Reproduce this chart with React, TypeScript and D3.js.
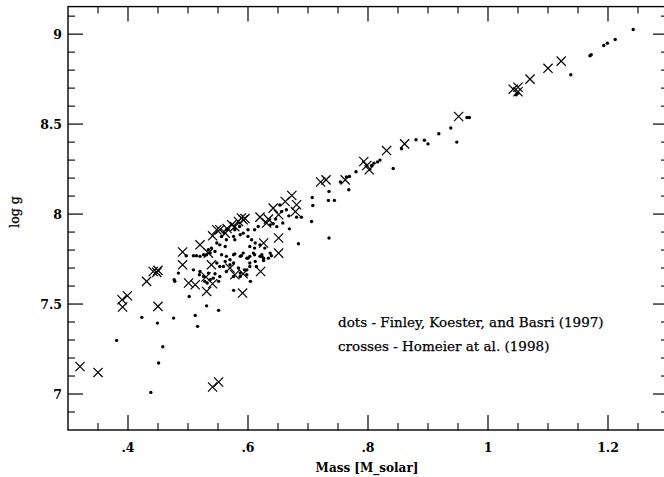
import React from "react";
import * as d3 from "d3";

// Finley, Koester & Basri (1997) — dots: [mass, log g]
const dotMass = [
  1.242, 1.212, 1.199, 1.193, 1.17, 1.172, 1.138, 1.047, 1.05, 0.965, 0.969, 0.938, 0.948, 0.918, 0.88, 0.894, 0.9,
  0.856, 0.842, 0.82, 0.816, 0.806, 0.81, 0.78, 0.769, 0.764, 0.754, 0.768, 0.735, 0.707, 0.734, 0.744, 0.708, 0.706,
  0.735, 0.684,
  0.653, 0.664, 0.656, 0.668, 0.689, 0.681, 0.646, 0.642, 0.637, 0.658, 0.669, 0.648,
  0.534, 0.539, 0.548, 0.553, 0.562, 0.564, 0.576, 0.578, 0.587, 0.592, 0.6, 0.606, 0.611, 0.617,
  0.548, 0.553, 0.562, 0.57, 0.576, 0.587, 0.592, 0.598, 0.603, 0.609, 0.623, 0.626, 0.634,
  0.564, 0.556, 0.578, 0.586, 0.6,
  0.603, 0.612, 0.611, 0.62, 0.628, 0.637,
  0.603, 0.62, 0.614, 0.598, 0.587, 0.598,
  0.381, 0.423, 0.449, 0.476, 0.458, 0.451, 0.438, 0.512, 0.516, 0.531, 0.551, 0.502, 0.576, 0.604, 0.478, 0.477,
  0.484, 0.52, 0.519, 0.509, 0.526, 0.528, 0.532, 0.537, 0.542, 0.551, 0.553, 0.545, 0.534, 0.559, 0.564, 0.57,
  0.576, 0.584, 0.576, 0.587, 0.594, 0.603, 0.612, 0.623, 0.626, 0.639,
  0.509, 0.52, 0.531, 0.537, 0.545, 0.556, 0.564, 0.578, 0.589, 0.6, 0.611, 0.497, 0.514, 0.526,
];
const dotLogg = [
  9.026, 8.97, 8.95, 8.937, 8.88, 8.885, 8.774, 8.663, 8.672, 8.537, 8.537, 8.478, 8.4, 8.446, 8.413, 8.41, 8.39,
  8.363, 8.253, 8.3, 8.29, 8.27, 8.283, 8.235, 8.209, 8.206, 8.178, 8.135, 8.126, 8.092, 8.076, 8.076, 8.048, 7.959,
  7.867, 7.835,
  8.05, 8.024, 8.014, 7.99, 7.983, 7.983, 7.972, 7.946, 7.94, 7.95, 7.918, 7.93,
  7.802, 7.811, 7.839, 7.829, 7.82, 7.857, 7.876, 7.857, 7.885, 7.894, 7.876, 7.857, 7.913, 7.931,
  7.728, 7.709, 7.737, 7.746, 7.774, 7.765, 7.783, 7.755, 7.765, 7.783, 7.774, 7.755, 7.755,
  7.913, 7.876, 7.913, 7.931, 7.913,
  7.82, 7.839, 7.811, 7.829, 7.811, 7.783,
  7.709, 7.765, 7.709, 7.69, 7.672, 7.663,
  7.298, 7.426, 7.394, 7.422, 7.263, 7.172, 7.009, 7.437, 7.376, 7.49, 7.465, 7.542, 7.576, 7.626, 7.626, 7.635,
  7.672, 7.681, 7.663, 7.69, 7.653, 7.626, 7.617, 7.635, 7.644, 7.626, 7.653, 7.668, 7.672, 7.709, 7.681, 7.718,
  7.728, 7.7, 7.653, 7.653, 7.69, 7.728, 7.737, 7.765, 7.742, 7.768,
  7.768, 7.765, 7.774, 7.783, 7.792, 7.774, 7.765, 7.779, 7.768, 7.755, 7.774, 7.768, 7.768, 7.774,
];

// Homeier et al. (1998) — crosses: [mass, log g]
const crossMass = [
  0.32, 0.35, 0.39, 0.399, 0.391, 0.431, 0.442, 0.45, 0.448, 0.45, 0.541, 0.551, 0.491, 0.491, 0.501, 0.512,
  0.531, 0.53, 0.541, 0.539, 0.57, 0.578, 0.592, 0.591, 0.621, 0.651, 0.651, 0.52, 0.534, 0.541, 0.548, 0.553,
  0.562, 0.573, 0.578, 0.584, 0.589, 0.592, 0.62, 0.631, 0.634, 0.642, 0.651, 0.662, 0.673, 0.681, 0.679, 0.626,
  0.721, 0.73, 0.762, 0.793, 0.802, 0.798, 0.831, 0.861, 0.951, 1.042, 1.05, 1.05, 1.07, 1.1, 1.122, 0.565, 0.595,
];
const crossLogg = [
  7.153, 7.12, 7.524, 7.546, 7.483, 7.626, 7.681, 7.687, 7.676, 7.487, 7.039, 7.067, 7.718, 7.789, 7.617, 7.607,
  7.57, 7.65, 7.613, 7.718, 7.7, 7.663, 7.668, 7.561, 7.681, 7.783, 7.867, 7.829, 7.783, 7.879, 7.913, 7.913,
  7.894, 7.94, 7.93, 7.959, 7.978, 7.968, 7.983, 7.95, 7.972, 8.033, 7.996, 8.07, 8.103, 8.052, 8.014, 7.839,
  8.178, 8.19, 8.19, 8.292, 8.246, 8.27, 8.353, 8.39, 8.542, 8.694, 8.705, 8.68, 8.75, 8.81, 8.85, 7.92, 7.975,
];

const xMajorTicks = [0.4, 0.6, 0.8, 1.0, 1.2];
const xTickLabels = [".4", ".6", ".8", "1", "1.2"];
const yMajorTicks = [7, 7.5, 8, 8.5, 9];
const yTickLabels = ["7", "7.5", "8", "8.5", "9"];
const xMinorTicks = [0.35, 0.45, 0.5, 0.55, 0.65, 0.7, 0.75, 0.85, 0.9, 0.95, 1.05, 1.1, 1.15, 1.25];
const yMinorTicks = [6.9, 7.1, 7.2, 7.3, 7.4, 7.6, 7.7, 7.8, 7.9, 8.1, 8.2, 8.3, 8.4, 8.6, 8.7, 8.8, 8.9, 9.1];

const legendLines = [
  "dots - Finley, Koester, and Basri (1997)",
  "crosses - Homeier at al. (1998)",
];

const W = 664;
const H = 477;
const FONT = "'DejaVu Serif', serif";

export default function App() {
  const x = d3.scaleLinear().domain([0.3, 1.3]).range([68, 668]);
  const y = d3.scaleLinear().domain([6.8, 9.153]).range([430, 6.6]);
  const [x0, x1] = x.range();
  const [y0, y1] = y.range();
  const majorLen = 15;
  const minorLen = 7;
  const cs = 4.6;

  return (
    <svg
      width={W}
      height={H}
      style={{ position: "fixed", left: 0, top: 0, background: "#fff" }}
      xmlns="http://www.w3.org/2000/svg"
    >
      <rect x={0} y={0} width={W} height={H} fill="#fff" />
      {/* frame */}
      <rect x={x0} y={y1} width={x1 - x0} height={y0 - y1} fill="none" stroke="#000" strokeWidth={1.4} />
      {/* x ticks, bottom and top */}
      {xMajorTicks.map((t, i) => (
        <g key={"xM" + i} stroke="#000" strokeWidth={1.2}>
          <line x1={x(t)} x2={x(t)} y1={y0} y2={y0 - majorLen} />
          <line x1={x(t)} x2={x(t)} y1={y1} y2={y1 + majorLen} />
        </g>
      ))}
      {xMinorTicks.map((t, i) => (
        <g key={"xm" + i} stroke="#000" strokeWidth={1.1}>
          <line x1={x(t)} x2={x(t)} y1={y0} y2={y0 - minorLen} />
          <line x1={x(t)} x2={x(t)} y1={y1} y2={y1 + minorLen} />
        </g>
      ))}
      {yMajorTicks.map((t, i) => (
        <g key={"yM" + i} stroke="#000" strokeWidth={1.2}>
          <line x1={x0} x2={x0 + majorLen} y1={y(t)} y2={y(t)} />
          <line x1={x1} x2={x1 - majorLen} y1={y(t)} y2={y(t)} />
        </g>
      ))}
      {yMinorTicks.map((t, i) => (
        <g key={"ym" + i} stroke="#000" strokeWidth={1.1}>
          <line x1={x0} x2={x0 + minorLen} y1={y(t)} y2={y(t)} />
          <line x1={x1} x2={x1 - minorLen} y1={y(t)} y2={y(t)} />
        </g>
      ))}
      {/* tick labels */}
      {xMajorTicks.map((t, i) => (
        <text key={"xl" + i} x={x(t)} y={452} textAnchor="middle" fontFamily={FONT} fontWeight="bold" fontSize={12.5} fill="#000">
          {xTickLabels[i]}
        </text>
      ))}
      {yMajorTicks.map((t, i) => (
        <text key={"yl" + i} x={62} y={y(t) + 4.5} textAnchor="end" fontFamily={FONT} fontWeight="bold" fontSize={12.5} fill="#000">
          {yTickLabels[i]}
        </text>
      ))}
      {/* axis titles */}
      <text x={(x0 + 668) / 2 - 1} y={472} textAnchor="middle" fontFamily={FONT} fontWeight="bold" fontSize={12} fill="#000">
        Mass [M_solar]
      </text>
      <text
        transform={`translate(19, 212) rotate(-90)`}
        textAnchor="middle"
        fontFamily={FONT}
        fontSize={12.5}
        fill="#000"
        stroke="#000"
        strokeWidth={0.3}
      >
        log g
      </text>
      {/* dots */}
      {dotMass.map((m, i) => (
        <circle key={"d" + i} cx={x(m)} cy={y(dotLogg[i])} r={1.7} fill="#000" />
      ))}
      {/* crosses */}
      {crossMass.map((m, i) => {
        const cx = x(m);
        const cy = y(crossLogg[i]);
        return (
          <path
            key={"c" + i}
            d={`M${cx - cs},${cy - cs}L${cx + cs},${cy + cs}M${cx - cs},${cy + cs}L${cx + cs},${cy - cs}`}
            stroke="#000"
            strokeWidth={1.2}
            fill="none"
          />
        );
      })}
      {/* legend text */}
      {legendLines.map((s, i) => (
        <text
          key={"lg" + i}
          x={338}
          y={327 + i * 24}
          fontFamily={FONT}
          fontSize={13.5}
          fill="#000"
          stroke="#000"
          strokeWidth={0.25}
        >
          {s}
        </text>
      ))}
    </svg>
  );
}
